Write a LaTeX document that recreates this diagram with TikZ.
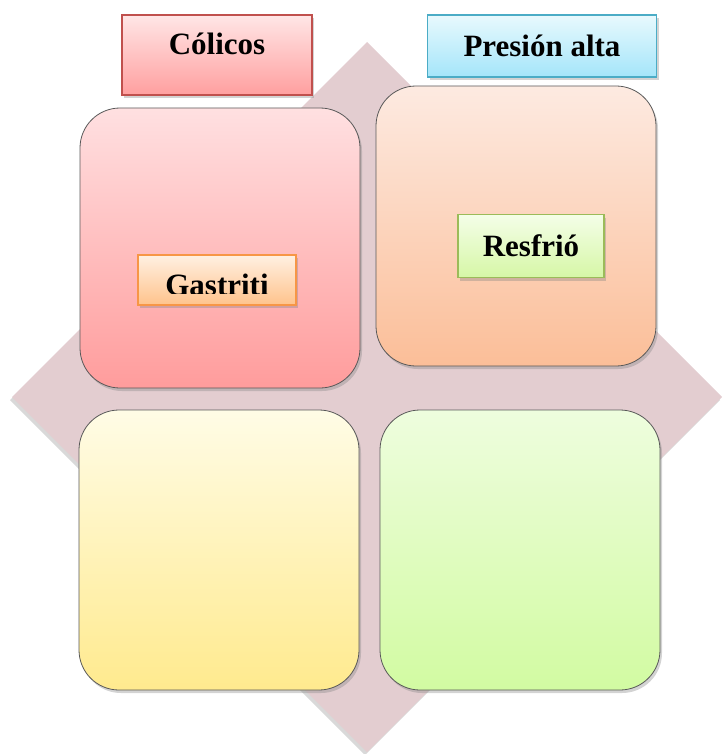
\documentclass[tikz,border=0pt]{standalone}
\usepackage{fontspec}
\setmainfont{Liberation Serif}
\usetikzlibrary{shadows}
\definecolor{rombo}{HTML}{E3CDD0}
\definecolor{rojoB}{HTML}{C0504D}
\definecolor{azulB}{HTML}{4BACC6}
\definecolor{naranjaB}{HTML}{F79646}
\definecolor{verdeB}{HTML}{9BBB59}
\definecolor{rosaA}{HTML}{FFE0E1}\definecolor{rosaB}{HTML}{FF9C9C}
\definecolor{durA}{HTML}{FDEAE1}\definecolor{durB}{HTML}{FBBE98}
\definecolor{amaA}{HTML}{FFFCE6}\definecolor{amaB}{HTML}{FFEA8E}
\definecolor{verA}{HTML}{EEFDDE}\definecolor{verB}{HTML}{D2FBA2}
\definecolor{colA}{HTML}{FFE6E6}\definecolor{colB}{HTML}{FF9F9F}
\definecolor{preA}{HTML}{E8F9FD}\definecolor{preB}{HTML}{A4E5FA}
\definecolor{resA}{HTML}{F4FEE8}\definecolor{resB}{HTML}{D6F7A6}
\definecolor{gasA}{HTML}{FFF0E2}\definecolor{gasB}{HTML}{FFC38C}
\begin{document}
\begin{tikzpicture}[x=1pt,y=-1pt,
    panel/.style={draw=black!65, line width=0.8pt, rounded corners=40pt,
        minimum width=280pt, minimum height=280pt,
        drop shadow={opacity=0.35, shadow xshift=2pt, shadow yshift=-3pt}},
    etiqueta/.style={line width=1.8pt, inner sep=0pt,
        font=\fontsize{31}{36}\selectfont\bfseries,
        drop shadow={opacity=0.35, shadow xshift=2pt, shadow yshift=-3pt}}]
\useasboundingbox (0,0) rectangle (725,754);
% rombo de fondo
\fill[rombo, drop shadow={opacity=0.3, shadow xshift=-2pt, shadow yshift=-3pt}]
    (12,397) -- (367,42) -- (722,397) -- (367,752) -- cycle;
% cuadrantes
\node[panel, top color=rosaA, bottom color=rosaB] (gastro) at (220,248) {};
\node[panel, top color=durA, bottom color=durB] (resp) at (516,226) {};
\node[panel, top color=amaA, bottom color=amaB] (vacioA) at (219,550) {};
\node[panel, top color=verA, bottom color=verB] (vacioB) at (520,550) {};
% etiquetas
\node[etiqueta, draw=rojoB, top color=colA, bottom color=colB,
    minimum width=190pt, minimum height=80pt, text height=22pt, text depth=22pt] (colicos) at (217,55) {Cólicos};
\node[etiqueta, draw=azulB, top color=preA, bottom color=preB,
    minimum width=229pt, minimum height=62pt] (presion) at (542,46) {Presión alta};
\node[etiqueta, draw=verdeB, top color=resA, bottom color=resB,
    minimum width=146pt, minimum height=63pt] (resfrio) at (531,246) {Resfrió};
\node[etiqueta, draw=naranjaB, top color=gasA, bottom color=gasB,
    minimum width=158pt, minimum height=50pt] (gastritis) at (217,280) {};
\begin{scope}
  \clip (139,257) rectangle (295,293);
  \node[anchor=base, font=\fontsize{31}{36}\selectfont\bfseries] (gastrititxt) at (217,295) {Gastriti};
\end{scope}
\end{tikzpicture}
\end{document}
